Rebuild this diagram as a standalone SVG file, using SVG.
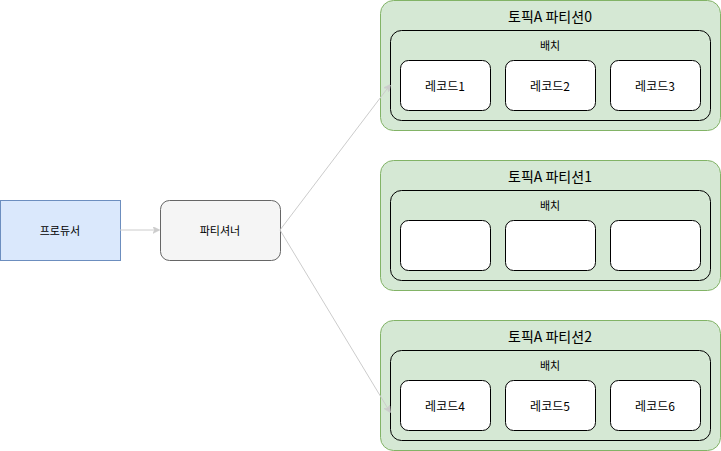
<svg xmlns="http://www.w3.org/2000/svg" width="721" height="451" viewBox="0 0 721 451">
<style>
text{font-family:"Noto Sans CJK KR","Liberation Sans",sans-serif;fill:#000;text-anchor:middle;dominant-baseline:central}
.part{fill:#d5e8d4;stroke:#82b366;stroke-width:1}
.batch{fill:none;stroke:#000;stroke-width:1}
.rec{fill:#fff;stroke:#000;stroke-width:1}
.t14{font-size:14px}
.t12{font-size:12px}
.t11{font-size:11px}
.conn{stroke:#cccccc;stroke-width:1;fill:none}
</style>
<defs>
<marker id="arr" viewBox="0 0 10 10" refX="9" refY="5" markerWidth="7" markerHeight="7" markerUnits="userSpaceOnUse" orient="auto">
<path d="M0,0 L10,5 L0,10 L3,5 Z" fill="#cccccc" stroke="#cccccc"/>
</marker>
</defs>
<rect width="721" height="451" fill="#fff"/>
<g id="producer">
<rect x="0.5" y="200.5" width="120" height="60" fill="#dae8fc" stroke="#6c8ebf"/>
<text x="60" y="230" class="t11">프로듀서</text>
</g>
<g id="partitioner">
<rect x="160.5" y="200.5" width="120" height="60" rx="9" fill="#f5f5f5" stroke="#666666"/>
<text x="220" y="230" class="t11">파티셔너</text>
</g>
<g id="partition0">
<rect class="part" x="380.5" y="0.5" width="340" height="130" rx="13"/>
<text x="550" y="16" class="t14">토픽A 파티션0</text>
<g id="batch0">
<rect class="batch" x="390.5" y="30.5" width="320" height="90" rx="11"/>
<text x="550" y="45" class="t11">배치</text>
</g>
<g id="record1"><rect class="rec" x="400.5" y="60.5" width="90" height="50" rx="8"/><text x="445" y="85" class="t12">레코드1</text></g>
<g id="record2"><rect class="rec" x="505.5" y="60.5" width="90" height="50" rx="8"/><text x="550" y="85" class="t12">레코드2</text></g>
<g id="record3"><rect class="rec" x="610.5" y="60.5" width="90" height="50" rx="8"/><text x="655" y="85" class="t12">레코드3</text></g>
</g>
<g id="partition1">
<rect class="part" x="380.5" y="160.5" width="340" height="130" rx="13"/>
<text x="550" y="176" class="t14">토픽A 파티션1</text>
<g id="batch1">
<rect class="batch" x="390.5" y="190.5" width="320" height="90" rx="11"/>
<text x="550" y="205" class="t11">배치</text>
</g>
<g id="empty1"><rect class="rec" x="400.5" y="220.5" width="90" height="50" rx="8"/></g>
<g id="empty2"><rect class="rec" x="505.5" y="220.5" width="90" height="50" rx="8"/></g>
<g id="empty3"><rect class="rec" x="610.5" y="220.5" width="90" height="50" rx="8"/></g>
</g>
<g id="partition2">
<rect class="part" x="380.5" y="320.5" width="340" height="130" rx="13"/>
<text x="550" y="336" class="t14">토픽A 파티션2</text>
<g id="batch2">
<rect class="batch" x="390.5" y="350.5" width="320" height="90" rx="11"/>
<text x="550" y="365" class="t11">배치</text>
</g>
<g id="record4"><rect class="rec" x="400.5" y="380.5" width="90" height="50" rx="8"/><text x="445" y="405" class="t12">레코드4</text></g>
<g id="record5"><rect class="rec" x="505.5" y="380.5" width="90" height="50" rx="8"/><text x="550" y="405" class="t12">레코드5</text></g>
<g id="record6"><rect class="rec" x="610.5" y="380.5" width="90" height="50" rx="8"/><text x="655" y="405" class="t12">레코드6</text></g>
</g>
<g id="connectors">
<path class="conn" d="M120,230 L159,230" marker-end="url(#arr)"/>
<path class="conn" d="M280,230 L390,85" marker-end="url(#arr)"/>
<path class="conn" d="M280,230 L390,412" marker-end="url(#arr)"/>
</g>
</svg>
